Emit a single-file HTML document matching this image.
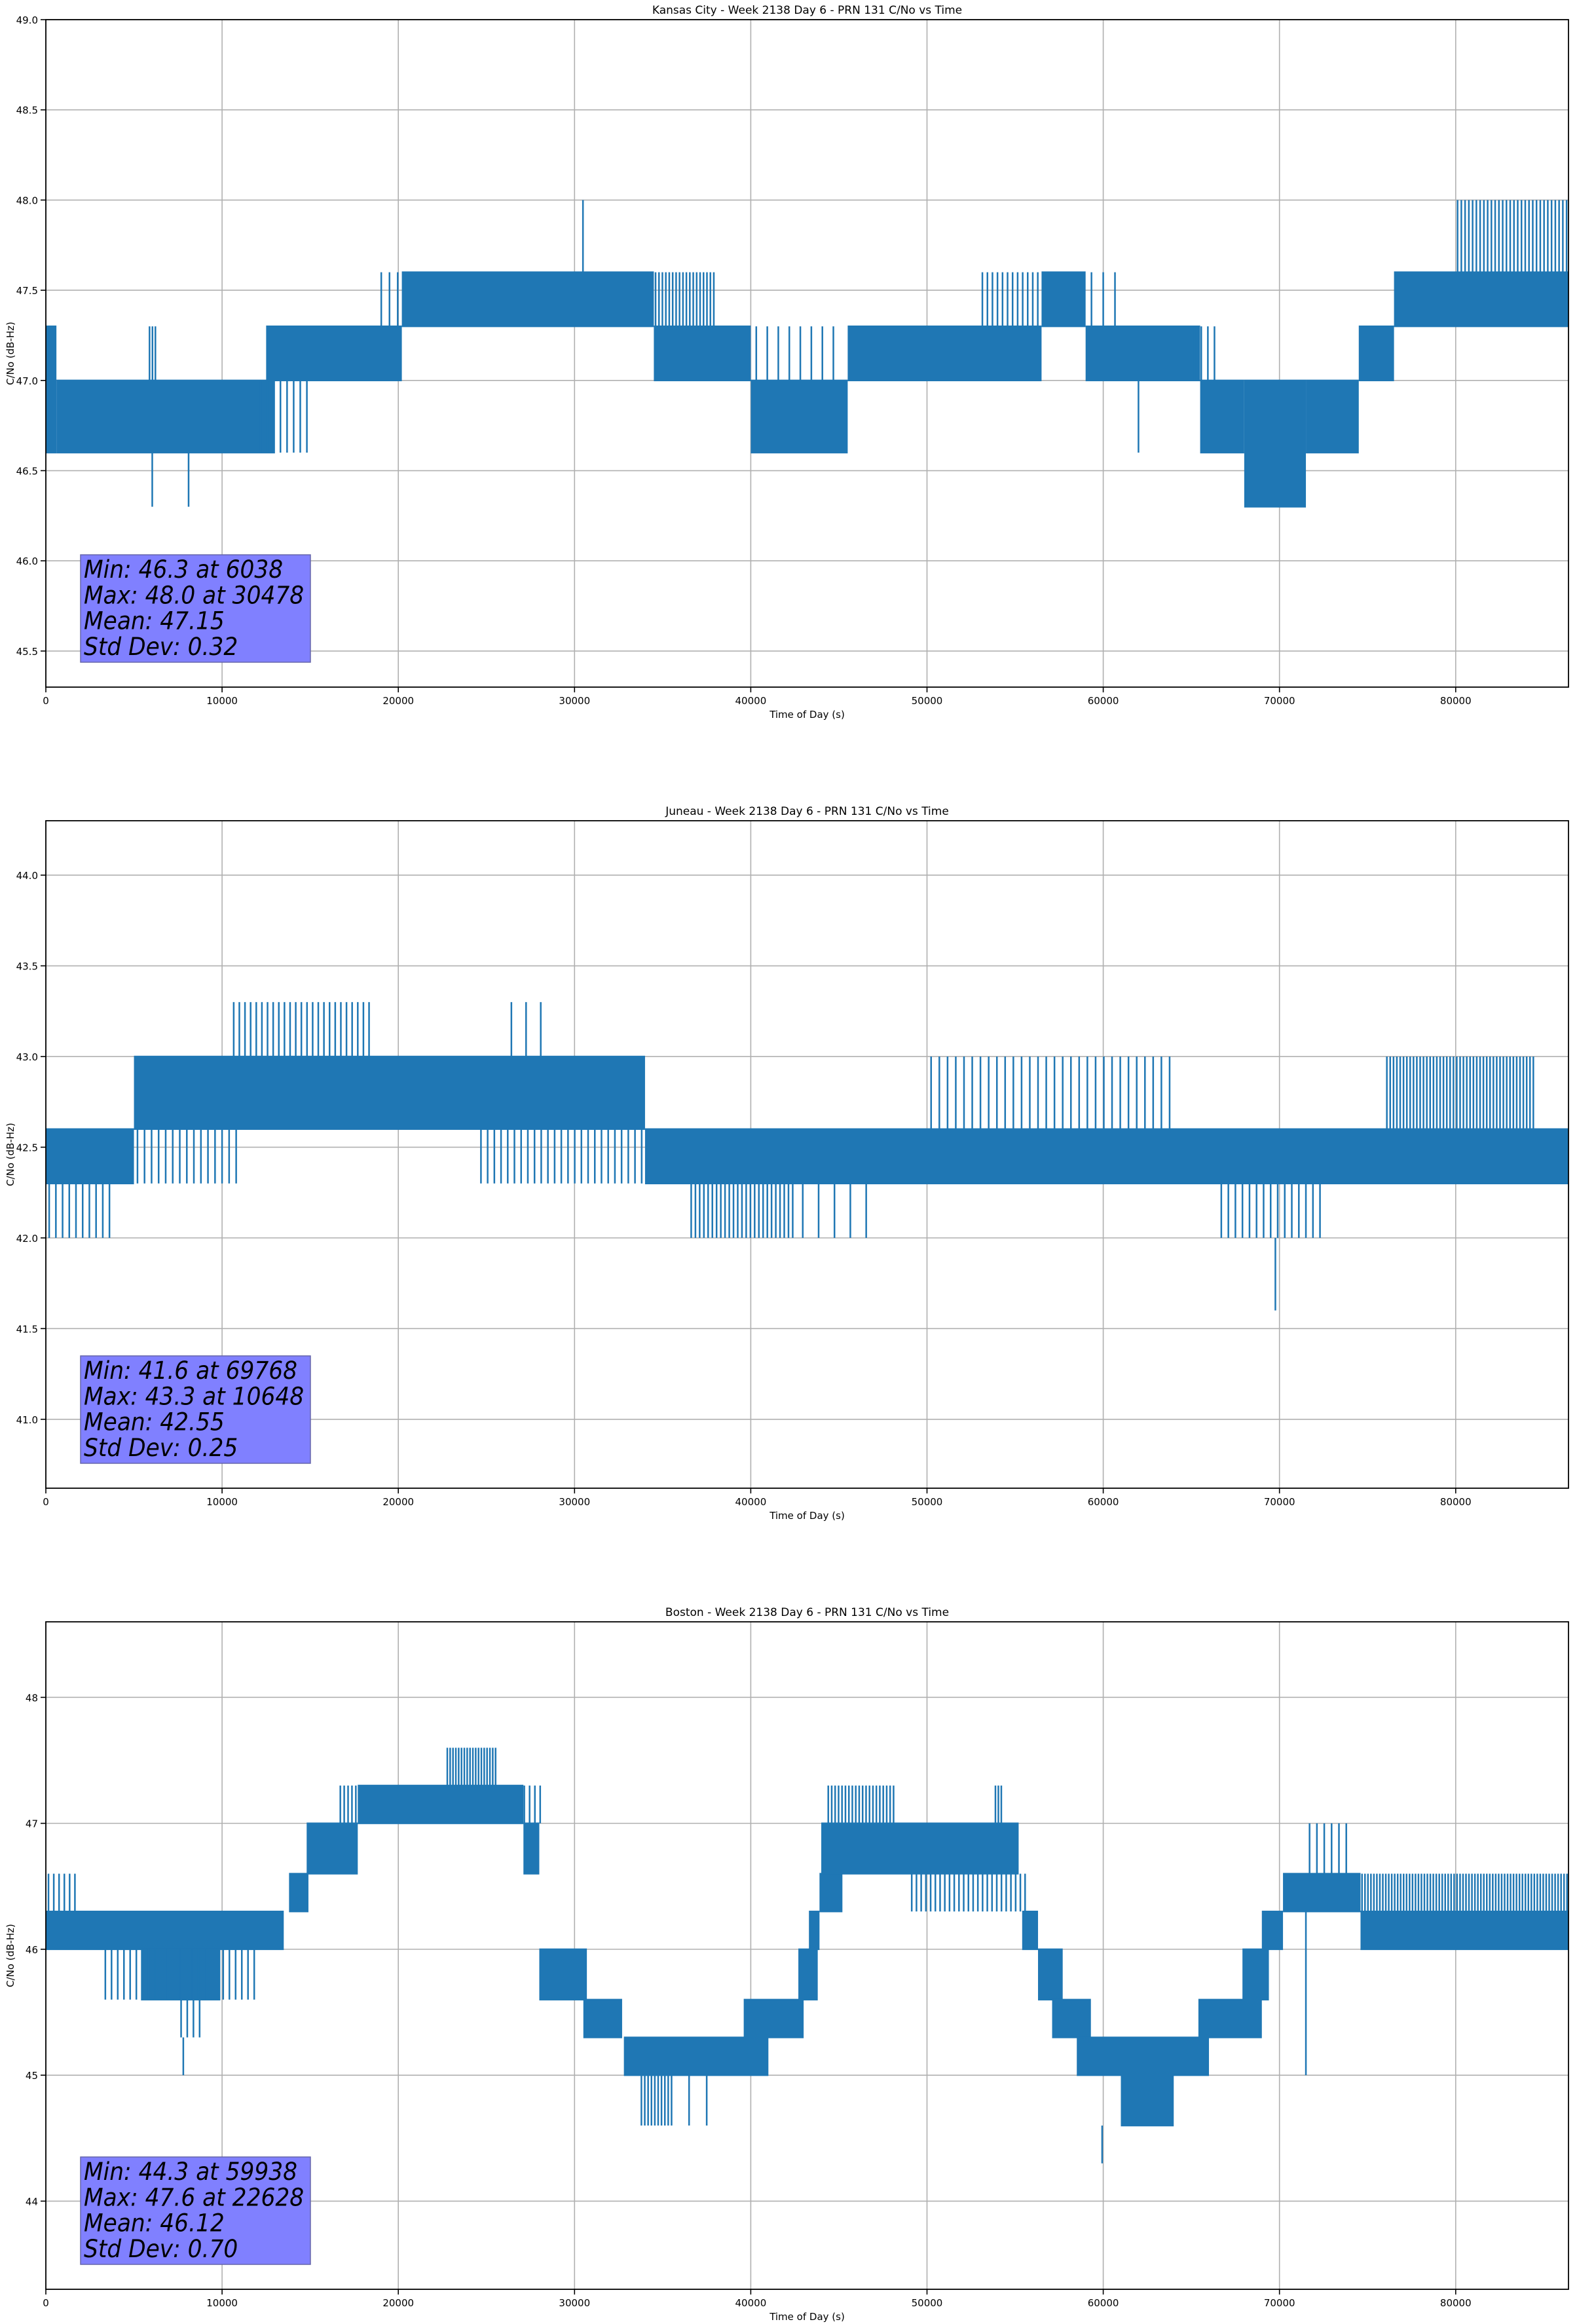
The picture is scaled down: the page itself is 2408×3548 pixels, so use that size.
<!DOCTYPE html>
<html><head><meta charset="utf-8"><style>
html,body{margin:0;padding:0;background:#fff}
svg{display:block}
text{font-family:"DejaVu Sans","Liberation Sans",sans-serif;fill:#000}
</style></head>
<body>
<svg id="fig" width="2408" height="3548" viewBox="0 0 2408 3548" xmlns="http://www.w3.org/2000/svg"></svg>
<script>
// ---------- Kansas City data ----------
const kcTitle = "Kansas City - Week 2138 Day 6 - PRN 131 C/No vs Time";
const kcYTicks = [45.5, 46.0, 46.5, 47.0, 47.5, 48.0, 48.5, 49.0];
const kcYTickLabels = ["45.5","46.0","46.5","47.0","47.5","48.0","48.5","49.0"];
const kcYRange = [45.3, 49.0];
const kcBands = [[0,600,46.6,47.3],[600,13000,46.6,47.0],[12500,20200,47.0,47.3],[20200,34500,47.3,47.6],[34500,40000,47.0,47.3],[40000,45500,46.6,47.0],[45500,56500,47.0,47.3],[56500,59000,47.3,47.6],[59000,65500,47.0,47.3],[65500,68000,46.6,47.0],[68000,71500,46.3,47.0],[71500,74500,46.6,47.0],[74500,76500,47.0,47.3],[76500,86400,47.3,47.6]];
const kcSparse = [[5800,6300,47.0,47.3,3],[12000,15000,46.6,47.0,8],[18800,20200,47.3,47.6,3],[34500,38000,47.3,47.6,18],[40000,45000,47.0,47.3,8],[53000,57000,47.3,47.6,14],[59000,61000,47.3,47.6,3],[65000,66500,47.0,47.3,4],[80000,86400,47.6,48.0,30]];
const kcSpikes = [[6038,46.3,46.6],[8100,46.3,46.6],[30478,47.6,48.0],[62000,46.6,47.0]];
const kcStats = ["Min: 46.3 at 6038","Max: 48.0 at 30478","Mean: 47.15","Std Dev: 0.32"];

// ---------- Juneau data ----------
const jnTitle = "Juneau - Week 2138 Day 6 - PRN 131 C/No vs Time";
const jnYTicks = [41.0, 41.5, 42.0, 42.5, 43.0, 43.5, 44.0];
const jnYTickLabels = ["41.0","41.5","42.0","42.5","43.0","43.5","44.0"];
const jnYRange = [40.62, 44.3];
const jnBands = [[0,5000,42.3,42.6],[5000,34000,42.6,43.0],[34000,86400,42.3,42.6]];
const jnSparse = [[0,3800,42.0,42.3,10],[5000,11000,42.3,42.6,15],[10500,18500,43.0,43.3,25],[24500,34000,42.3,42.6,25],[26000,28500,43.0,43.3,3],[36500,42500,42.0,42.3,25],[42500,47000,42.0,42.3,5],[50000,64000,42.6,43.0,30],[66500,72500,42.0,42.3,15],[76000,84500,42.6,43.0,45]];
const jnSpikes = [[69768,41.6,42.0]];
const jnStats = ["Min: 41.6 at 69768","Max: 43.3 at 10648","Mean: 42.55","Std Dev: 0.25"];

// ---------- Boston data ----------
const bsTitle = "Boston - Week 2138 Day 6 - PRN 131 C/No vs Time";
const bsYTicks = [44, 45, 46, 47, 48];
const bsYTickLabels = ["44","45","46","47","48"];
const bsYRange = [43.3, 48.6];
const bsBands = [[0,13500,46.0,46.3],[5400,9900,45.6,46.0],[13800,14900,46.3,46.6],[14800,17700,46.6,47.0],[17700,27100,47.0,47.3],[27100,28000,46.6,47.0],[28000,30700,45.6,46.0],[30500,32700,45.3,45.6],[32800,41000,45.0,45.3],[39600,43000,45.3,45.6],[42700,43800,45.6,46.0],[43300,43900,46.0,46.3],[43900,45200,46.3,46.6],[44000,55200,46.6,47.0],[55400,56300,46.0,46.3],[56300,57700,45.6,46.0],[57100,59300,45.3,45.6],[58500,66000,45.0,45.3],[61000,64000,44.6,45.0],[65400,69000,45.3,45.6],[67900,69400,45.6,46.0],[69000,70200,46.0,46.3],[70200,74600,46.3,46.6],[74600,86400,46.0,46.3]];
const bsSparse = [[0,1800,46.3,46.6,6],[3200,12000,45.6,46.0,25],[7500,8900,45.3,45.6,4],[16600,17700,47.0,47.3,5],[22700,25600,47.3,47.6,18],[27000,28200,47.0,47.3,4],[33700,35600,44.6,45.0,10],[36000,38000,44.6,45.0,2],[44300,48200,47.0,47.3,20],[53800,54300,47.0,47.3,3],[49000,55700,46.3,46.6,25],[71500,74000,46.6,47.0,6],[74600,86400,46.3,46.6,70]];
const bsSpikes = [[7800,45.0,45.3],[59938,44.3,44.6],[71500,45.0,46.3]];
const bsStats = ["Min: 44.3 at 59938","Max: 47.6 at 22628","Mean: 46.12","Std Dev: 0.70"];

const xTicks = [0,10000,20000,30000,40000,50000,60000,70000,80000];
const xRange = [0, 86400];

const NS = "http://www.w3.org/2000/svg";
const fig = document.getElementById('fig');
function mk(tag, attrs, parent){const e=document.createElementNS(NS,tag);for(const k in attrs)e.setAttribute(k,attrs[k]);(parent||fig).appendChild(e);return e;}

const PX0=70, PX1=2395, PH=1019, BLUE="#1f77b4";

function drawChart(top, name, title, yTicks, yLabels, yRange, bands, sparse, spikes, stats){
  const g = mk('g',{});
  
  
  const bottom = top+PH;
  const sx = v => PX0 + (v-xRange[0])/(xRange[1]-xRange[0])*(PX1-PX0);
  const sy = v => bottom - (v-yRange[0])/(yRange[1]-yRange[0])*PH;
  xTicks.forEach(t=>{
    const l = mk('line',{x1:sx(t),x2:sx(t),y1:top,y2:bottom,stroke:'#b0b0b0','stroke-width':1.6},g);
    
    
  });
  yTicks.forEach(t=>{
    const l = mk('line',{x1:PX0,x2:PX1,y1:sy(t),y2:sy(t),stroke:'#b0b0b0','stroke-width':1.6},g);
    
    
  });
  const sg = mk('g',{},g);
  
  
  bands.forEach(b=>{
    const r = mk('rect',{x:sx(b[0]),y:sy(b[3])-1.2,width:Math.max(2,sx(b[1])-sx(b[0])),height:sy(b[2])-sy(b[3])+2.4,fill:BLUE},sg);
    
    
  });
  sparse.forEach(s=>{
    const n=s[4];
    for(let i=0;i<n;i++){
      const t = s[0]+(i+0.5)*(s[1]-s[0])/n;
      const l = mk('line',{x1:sx(t),x2:sx(t),y1:sy(s[3]),y2:sy(s[2]),stroke:BLUE,'stroke-width':2.5},sg);
      
      
    }
  });
  spikes.forEach(s=>{
    const l = mk('line',{x1:sx(s[0]),x2:sx(s[0]),y1:sy(s[2]),y2:sy(s[1]),stroke:BLUE,'stroke-width':2.5},sg);
    
    
  });
  const fr = mk('rect',{x:PX0,y:top,width:PX1-PX0,height:PH,fill:'none',stroke:'#000','stroke-width':1.8},g);
  
  
  xTicks.forEach(t=>{
    const l = mk('line',{x1:sx(t),x2:sx(t),y1:bottom,y2:bottom+8,stroke:'#000','stroke-width':1.6},g);
    
    
    const tx = mk('text',{x:sx(t),y:bottom+26,'text-anchor':'middle','font-size':15},g);
    tx.textContent = String(t);
    
    
  });
  yTicks.forEach((t,i)=>{
    const l = mk('line',{x1:PX0-8,x2:PX0,y1:sy(t),y2:sy(t),stroke:'#000','stroke-width':1.6},g);
    
    
    const tx = mk('text',{x:PX0-12,y:sy(t)+6,'text-anchor':'end','font-size':15},g);
    tx.textContent = yLabels[i];
    
    
  });
  const tt = mk('text',{x:(PX0+PX1)/2,y:top-9,'text-anchor':'middle','font-size':17},g);
  tt.textContent = title;
  
  
  const xl = mk('text',{x:(PX0+PX1)/2,y:bottom+47,'text-anchor':'middle','font-size':15},g);
  xl.textContent = "Time of Day (s)";
  
  
  const yc = top+PH/2;
  const yl = mk('text',{x:21,y:yc,'text-anchor':'middle','font-size':15,transform:`rotate(-90 21 ${yc})`},g);
  yl.textContent = "C/No (dB-Hz)";
  
  
  const bx = mk('rect',{x:123,y:bottom-202,width:351,height:164,fill:'#8080ff',stroke:'#6666aa','stroke-width':1.5},g);
  
  
  const tg = mk('g',{transform:'translate(128,0) scale(0.93,1)'},g);
  stats.forEach((s,i)=>{
    const tx = mk('text',{x:0,y:bottom-202+35+i*39.3,'font-size':37,'font-style':'italic'},tg);
    tx.textContent = s;
    
    
  });
}

drawChart(30, 'kansas-city', kcTitle, kcYTicks, kcYTickLabels, kcYRange, kcBands, kcSparse, kcSpikes, kcStats);
drawChart(1253, 'juneau', jnTitle, jnYTicks, jnYTickLabels, jnYRange, jnBands, jnSparse, jnSpikes, jnStats);
drawChart(2476, 'boston', bsTitle, bsYTicks, bsYTickLabels, bsYRange, bsBands, bsSparse, bsSpikes, bsStats);
</script>
</body></html>
